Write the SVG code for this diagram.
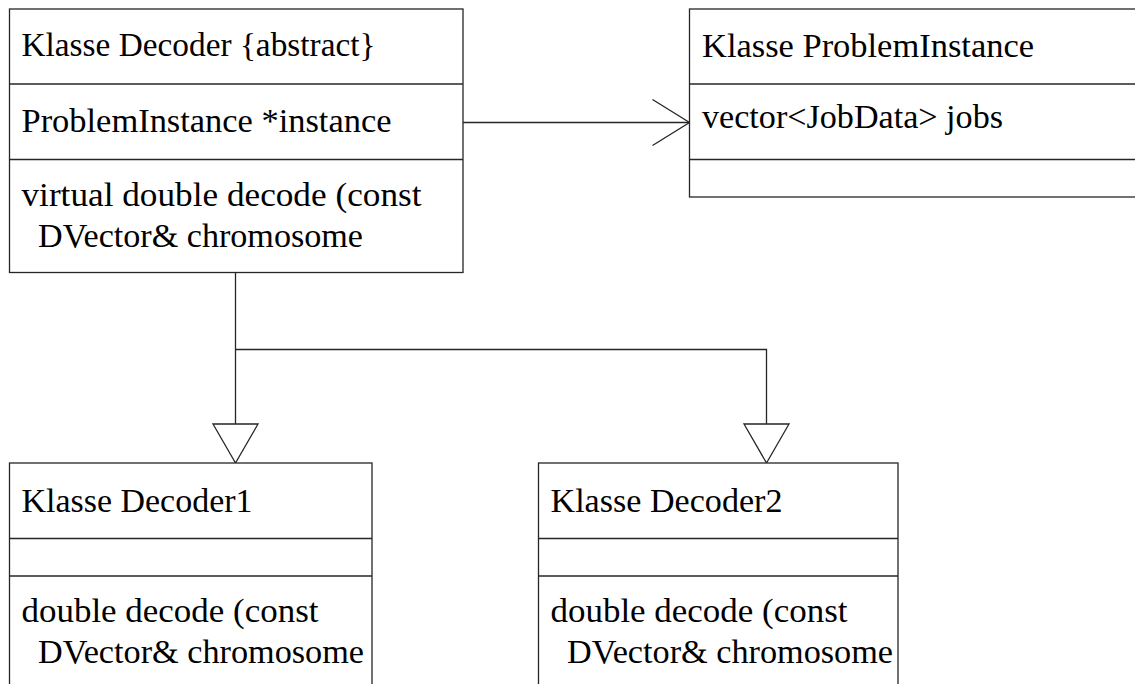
<svg xmlns="http://www.w3.org/2000/svg" width="1135" height="684" viewBox="0 0 1135 684">
  <style>
    .box { fill: #ffffff; stroke: #262626; stroke-width: 1.3; }
    .sep { stroke: #262626; stroke-width: 1.3; fill: none; }
    .edge { stroke: #262626; stroke-width: 1.3; fill: none; }
    .head { stroke: #262626; stroke-width: 1.3; fill: #ffffff; }
    text { font-family: "Liberation Serif", "DejaVu Serif", serif; font-size: 34.5px; fill: #000000; }
  </style>

  <rect width="1135" height="684" fill="#ffffff"/>

  <!-- connectors -->
  <g id="connectors">
    <!-- association Decoder -> ProblemInstance -->
    <line class="edge" x1="463" y1="122.5" x2="689.5" y2="122.5"/>
    <polyline class="edge" points="652.5,99.5 689.5,122.5 652.5,145.5"/>
    <!-- inheritance tree -->
    <polyline class="edge" points="235.5,273 235.5,424"/>
    <polyline class="edge" points="235.5,349.5 766.5,349.5 766.5,424"/>
    <polygon class="head" points="213,424 258,424 235.5,463"/>
    <polygon class="head" points="744,424 789,424 766.5,463"/>
  </g>

  <!-- abstract base class -->
  <g id="decoder">
    <rect class="box" x="9.5" y="9" width="453.5" height="263.5"/>
    <line class="sep" x1="9.5" y1="84" x2="463" y2="84"/>
    <line class="sep" x1="9.5" y1="159.5" x2="463" y2="159.5"/>
    <text x="21.5" y="56" textLength="354" lengthAdjust="spacingAndGlyphs">Klasse Decoder {abstract}</text>
    <text x="21.5" y="132" textLength="370" lengthAdjust="spacingAndGlyphs">ProblemInstance *instance</text>
    <text x="21.5" y="206" textLength="400" lengthAdjust="spacingAndGlyphs">virtual double decode (const</text>
    <text x="38" y="247" textLength="325" lengthAdjust="spacingAndGlyphs">DVector&amp; chromosome</text>
  </g>

  <!-- problem data class, running past the right edge -->
  <g id="probleminstance">
    <rect class="box" x="689.5" y="9" width="460" height="188"/>
    <line class="sep" x1="689.5" y1="84" x2="1135" y2="84"/>
    <line class="sep" x1="689.5" y1="159.5" x2="1135" y2="159.5"/>
    <text x="702" y="56.5" textLength="332" lengthAdjust="spacingAndGlyphs">Klasse ProblemInstance</text>
    <text x="702" y="128" textLength="301" lengthAdjust="spacingAndGlyphs">vector&lt;JobData&gt; jobs</text>
  </g>

  <!-- concrete decoders -->
  <g id="decoder1">
    <rect class="box" x="9.5" y="463" width="362.5" height="240"/>
    <line class="sep" x1="9.5" y1="538.5" x2="372" y2="538.5"/>
    <line class="sep" x1="9.5" y1="576" x2="372" y2="576"/>
    <text x="21.5" y="512" textLength="231" lengthAdjust="spacingAndGlyphs">Klasse Decoder1</text>
    <text x="21.5" y="622" textLength="297" lengthAdjust="spacingAndGlyphs">double decode (const</text>
    <text x="38" y="663" textLength="326" lengthAdjust="spacingAndGlyphs">DVector&amp; chromosome</text>
  </g>

  <g id="decoder2">
    <rect class="box" x="538.5" y="463" width="359.5" height="240"/>
    <line class="sep" x1="538.5" y1="538.5" x2="898" y2="538.5"/>
    <line class="sep" x1="538.5" y1="576" x2="898" y2="576"/>
    <text x="550.5" y="512" textLength="232" lengthAdjust="spacingAndGlyphs">Klasse Decoder2</text>
    <text x="550.5" y="622" textLength="297" lengthAdjust="spacingAndGlyphs">double decode (const</text>
    <text x="567" y="663" textLength="326" lengthAdjust="spacingAndGlyphs">DVector&amp; chromosome</text>
  </g>
</svg>
